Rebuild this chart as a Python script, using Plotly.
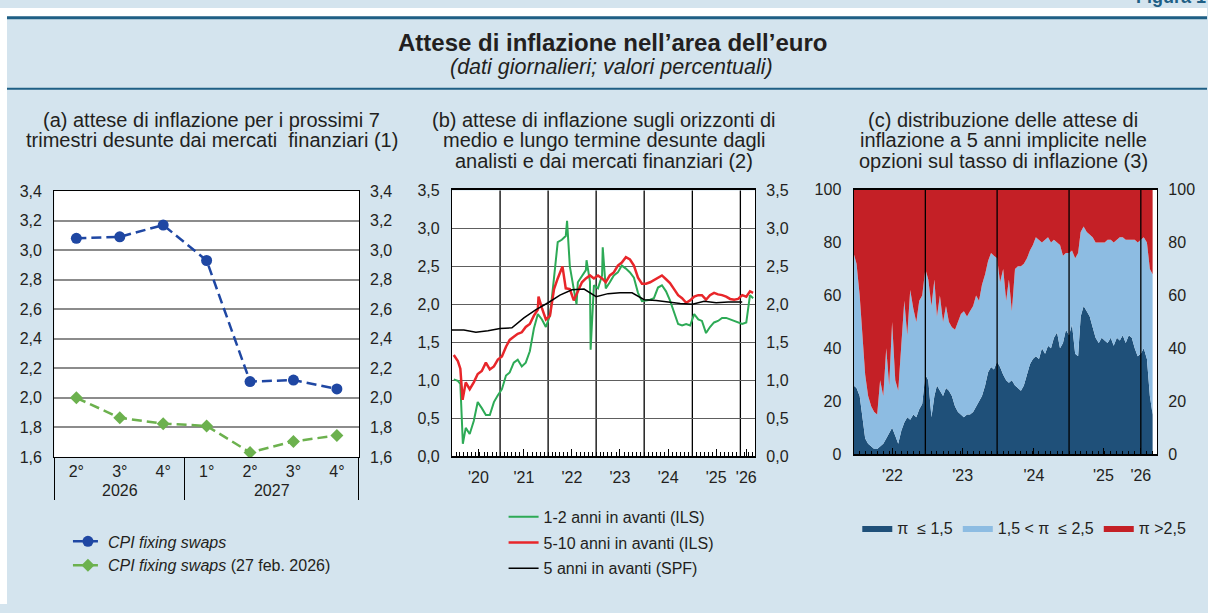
import pandas as pd
import plotly.graph_objects as go

# ---------------- data ----------------
# panel (a)
a_year = ["2026", "2026", "2026", "2027", "2027", "2027", "2027"]
a_quarter = ["2°", "3°", "4°", "1°", "2°", "3°", "4°"]
a_cpi_swaps = [3.08, 3.09, 3.17, 2.93, 2.11, 2.12, 2.06]
a_cpi_swaps_feb = [2.00, 1.865, 1.825, 1.81, 1.63, 1.705, 1.745]
a_yticks = [1.6, 1.8, 2.0, 2.2, 2.4, 2.6, 2.8, 3.0, 3.2, 3.4]

# panel (b): monthly (mid-month) readings Jan 2020 - Mar 2026
b_first_month = "2020-01-01"
b_green_m = [1.01, 0.99, 0.55, 0.37, 0.29, 0.46, 0.71, 0.63, 0.54, 0.54, 0.71, 0.80,
             0.88, 1.06, 1.10, 1.23, 1.27, 1.18, 1.23, 1.38, 1.68, 1.87, 1.80, 1.70,
             1.85, 2.35, 2.82, 2.85, 2.90, 2.50, 2.20, 2.29, 2.38, 2.45, 2.30, 2.25,
             2.21, 2.38, 2.21, 2.29, 2.38, 2.42, 2.51, 2.47, 2.42, 2.35, 2.15, 2.04,
             2.05, 2.06, 2.08, 2.22, 2.25, 2.17, 2.05, 1.90, 1.74, 1.72, 1.74, 1.72,
             1.87, 1.80, 1.78, 1.62, 1.70, 1.76, 1.78, 1.82, 1.82, 1.80, 1.78, 1.76,
             1.74, 1.76, 2.12]
b_green_extra_dates = ["2020-03-05", "2020-03-24", "2022-05-25", "2022-08-05",
                       "2022-10-20", "2022-11-20", "2023-02-20", "2026-04-08"]
b_green_extra = [0.95, 0.16, 3.10, 2.00, 2.58, 1.40, 2.75, 2.08]
b_red_m = [1.33, 1.25, 0.95, 0.97, 0.88, 0.97, 1.08, 1.12, 1.23, 1.14, 1.18, 1.27,
           1.31, 1.44, 1.53, 1.57, 1.61, 1.63, 1.70, 1.74, 1.85, 1.93, 1.95, 1.80,
           1.85, 2.20, 2.34, 2.47, 2.21, 2.20, 2.05, 2.17, 2.29, 2.34, 2.38, 2.34,
           2.38, 2.34, 2.29, 2.38, 2.42, 2.51, 2.55, 2.62, 2.59, 2.51, 2.35, 2.27,
           2.27, 2.29, 2.32, 2.36, 2.38, 2.33, 2.28, 2.20, 2.12, 2.08, 2.02, 2.05,
           2.10, 2.12, 2.12, 2.06, 2.12, 2.15, 2.13, 2.12, 2.10, 2.07, 2.06, 2.07,
           2.12, 2.10, 2.17]
b_red_extra_dates = ["2020-03-05", "2020-03-22", "2021-10-20", "2022-04-20", "2026-04-08"]
b_red_extra = [1.15, 0.74, 2.10, 2.50, 2.15]
b_spf_dates = ["2020-01-01", "2020-04-01", "2020-07-01", "2020-10-01",
               "2021-01-01", "2021-04-01", "2021-07-01", "2021-10-01",
               "2022-01-01", "2022-04-01", "2022-07-01", "2022-10-01",
               "2023-01-01", "2023-04-01", "2023-07-01", "2023-10-01",
               "2024-01-01", "2024-04-01", "2024-07-01", "2024-10-01",
               "2025-01-01", "2025-04-01", "2025-07-01", "2025-10-01", "2026-01-15"]
b_spf = [1.66, 1.66, 1.63, 1.65, 1.68, 1.69, 1.82, 1.93, 2.02, 2.12, 2.19, 2.20,
         2.10, 2.14, 2.15, 2.15, 2.06, 2.05, 2.03, 2.01, 2.00, 2.04, 2.02, 2.03, 2.03]
b_yticks = [0.0, 0.5, 1.0, 1.5, 2.0, 2.5, 3.0, 3.5]
b_tick_dates = ["2020-07-20", "2021-07-01", "2022-07-01", "2023-07-01",
                "2024-07-01", "2025-07-01", "2026-02-15"]
b_tick_text = ["'20", "'21", "'22", "'23", "'24", "'25", "'26"]
b_year_lines = ["2021-01-01", "2022-01-01", "2023-01-01", "2024-01-01",
                "2025-01-01", "2026-01-01"]

# panel (c): semi-monthly readings (1st and 16th) Jan 2022 - Mar 2026
c_first_month, c_last_month, c_last_date = "2022-01-01", "2026-02-01", "2026-03-02"
c_low = [26, 25, 22, 14, 6, 4, 3, 2, 2, 3, 4, 6, 8, 10, 7, 4, 9, 12, 14, 13, 15, 14, 17, 19,
         30, 28, 14, 22, 26, 24, 22, 25, 24, 22, 18, 16, 15, 14, 15, 15, 16, 18, 20, 22, 26, 31, 33, 32,
         35, 33, 30, 28, 27, 28, 26, 25, 24, 26, 30, 34, 36, 37, 36, 40, 38, 41, 40, 44, 46, 40, 42, 47,
         45, 49, 38, 37, 52, 56, 54, 52, 48, 44, 42, 44, 43, 42, 44, 41, 44, 43, 45, 42, 45, 44, 40, 37,
         38, 40, 36, 22, 15]
c_upto_25 = [76, 72, 60, 45, 30, 22, 18, 16, 15, 28, 22, 40, 26, 50, 28, 24, 40, 58, 45, 62, 55, 50, 58, 60,
             70, 66, 56, 66, 52, 60, 50, 56, 50, 48, 47, 50, 53, 54, 52, 54, 56, 60, 58, 64, 68, 73, 76, 75,
             74, 65, 70, 58, 66, 54, 70, 71, 71, 72, 74, 77, 79, 82, 81, 80, 81, 82, 80, 81, 80, 79, 75, 76,
             76, 77, 74, 76, 84, 86, 84, 83, 82, 80, 80, 80, 80, 81, 81, 80, 81, 82, 82, 81, 81, 81, 81, 80,
             81, 82, 80, 70, 68]
c_yticks = [0, 20, 40, 60, 80, 100]
c_tick_dates = ["2022-07-18", "2023-07-10", "2024-07-06", "2025-06-25", "2026-01-01"]
c_tick_text = ["'22", "'23", "'24", "'25", "'26"]
c_year_lines = ["2023-01-01", "2024-01-01", "2025-01-01", "2026-01-01"]

# ---------------- helpers ----------------
W, H = 1208, 613
def px(x):
    return x / W
def py(y):
    return 1 - y / H

FONT = "Liberation Sans, Arial, Helvetica, sans-serif"
TXT = "#231f20"
BG = "#d4e4ee"
BLUE_LINE = "#1f5f85"

# quarter keys: a zero-width space marks the second year so that the
# multicategory axis keeps the chronological order 1°..4° inside 2027
a_qkey = [q if y == a_year[0] else q + "\u200b" for q, y in zip(a_quarter, a_year)]
a_x = [a_year, a_qkey]

b_mid = pd.date_range(b_first_month, periods=len(b_green_m), freq="MS") + pd.Timedelta(days=14)
green = pd.concat([pd.Series(b_green_m, index=b_mid),
                   pd.Series(b_green_extra, index=pd.to_datetime(b_green_extra_dates))]).sort_index()
red = pd.concat([pd.Series(b_red_m, index=b_mid),
                 pd.Series(b_red_extra, index=pd.to_datetime(b_red_extra_dates))]).sort_index()

c_months = pd.date_range(c_first_month, c_last_month, freq="MS")
c_dates = [d + pd.Timedelta(days=o) for d in c_months for o in (0, 15)] + [pd.Timestamp(c_last_date)]
c_mid = [u - l for u, l in zip(c_upto_25, c_low)]
c_high = [100 - u for u in c_upto_25]

fig = go.Figure()

# ---- panel (a)
fig.add_trace(go.Scatter(
    x=a_x, y=a_cpi_swaps, name="<i>CPI fixing swaps</i>",
    mode="lines+markers", line=dict(color="#1f47a3", width=2.5, dash="10px,5px"),
    marker=dict(symbol="circle", size=11, color="#1f47a3"),
    xaxis="x", yaxis="y", legend="legend"))
fig.add_trace(go.Scatter(
    x=a_x, y=a_cpi_swaps_feb, name="<i>CPI fixing swaps</i> (27 feb. 2026)",
    mode="lines+markers", line=dict(color="#6cb14e", width=2.5, dash="10px,5px"),
    marker=dict(symbol="diamond", size=10, color="#6cb14e"),
    xaxis="x", yaxis="y", legend="legend"))
# invisible copy on the right-hand axis (so that its labels are drawn)
fig.add_trace(go.Scatter(x=a_x, y=a_cpi_swaps, mode="markers", marker=dict(opacity=0),
                         showlegend=False, hoverinfo="skip", xaxis="x", yaxis="y4"))

# ---- panel (b)
fig.add_trace(go.Scatter(x=green.index, y=green.values, name="1-2 anni in avanti (ILS)",
                         mode="lines", line=dict(color="#2daa56", width=2),
                         xaxis="x2", yaxis="y2", legend="legend2", legendgroup="g1"))
fig.add_trace(go.Scatter(x=red.index, y=red.values, name="5-10 anni in avanti (ILS)",
                         mode="lines", line=dict(color="#e8262a", width=2.5),
                         xaxis="x2", yaxis="y2", legend="legend2", legendgroup="g2"))
fig.add_trace(go.Scatter(x=pd.to_datetime(b_spf_dates), y=b_spf, name="5 anni in avanti (SPF)",
                         mode="lines", line=dict(color="#000000", width=1.5),
                         xaxis="x2", yaxis="y2", legend="legend2", legendgroup="g3"))
fig.add_trace(go.Scatter(x=green.index, y=green.values, mode="markers", marker=dict(opacity=0),
                         showlegend=False, hoverinfo="skip", xaxis="x2", yaxis="y5"))

# ---- panel (c)
for vals, nm, col in [(c_low, "π  ≤ 1,5", "#1f5079"),
                      (c_mid, "1,5 < π  ≤ 2,5", "#8dbce2"),
                      (c_high, "π >2,5", "#c42026")]:
    fig.add_trace(go.Scatter(x=c_dates, y=vals, name=nm, mode="lines", stackgroup="c",
                             line=dict(width=0, color=col), fillcolor=col,
                             xaxis="x3", yaxis="y3", legend="legend3"))
fig.add_trace(go.Scatter(x=c_dates, y=c_low, mode="markers", marker=dict(opacity=0),
                         showlegend=False, hoverinfo="skip", xaxis="x3", yaxis="y6"))

axis_font = dict(family=FONT, size=16, color=TXT)

common_y = dict(showline=True, linecolor="black", linewidth=1.2, mirror=True, ticks="",
                tickfont=axis_font, zeroline=False, ticklabelstandoff=8)
right_y = dict(side="right", showline=False, showgrid=False, ticks="", tickfont=axis_font,
               zeroline=False, ticklabelstandoff=10)

fig.update_layout(
    width=W, height=H, autosize=False,
    margin=dict(l=0, r=0, t=0, b=0),
    paper_bgcolor=BG, plot_bgcolor="white",
    separators=",.",
    font=dict(family=FONT, size=16, color=TXT),
    showlegend=True,
    xaxis=dict(domain=[px(54.3), px(359.3)], anchor="y", type="multicategory",
               showline=True, linecolor="black", linewidth=1.2, mirror=True,
               showdividers=True, dividercolor="black", dividerwidth=1.2,
               tickfont=axis_font, showgrid=False),
    yaxis=dict(domain=[py(461.7), py(188.3)], anchor="x", range=[1.6, 3.4],
               tickvals=a_yticks, tickformat=".1f", showgrid=True, gridcolor="#8c8c8c",
               gridwidth=1.5, **common_y),
    yaxis4=dict(overlaying="y", anchor="x", range=[1.6, 3.4], tickvals=a_yticks,
                tickformat=".1f", **right_y),
    xaxis2=dict(domain=[px(452.3), px(756)], anchor="y2", type="date",
                range=["2020-01-01", "2026-04-25"], tickvals=b_tick_dates, ticktext=b_tick_text,
                ticks="inside", ticklen=7, tickcolor="black", showgrid=False,
                showline=True, linecolor="black", linewidth=1.5, mirror=True,
                tickfont=axis_font, ticklabelstandoff=6,
                minor=dict(dtick="M1", tick0="2020-01-01", ticks="inside", ticklen=4,
                           tickcolor="black", showgrid=False)),
    yaxis2=dict(domain=[py(460.7), py(187.7)], anchor="x2", range=[0, 3.5],
                tickvals=b_yticks, tickformat=".1f", showgrid=True, gridcolor="#5e5e5e",
                gridwidth=1.3, **common_y),
    yaxis5=dict(overlaying="y2", anchor="x2", range=[0, 3.5], tickvals=b_yticks,
                tickformat=".1f", **right_y),
    xaxis3=dict(domain=[px(854.3), px(1158.3)], anchor="y3", type="date",
                range=["2022-01-01", "2026-03-26"], tickvals=c_tick_dates, ticktext=c_tick_text,
                ticks="inside", ticklen=7, tickcolor="black", showgrid=False,
                showline=True, linecolor="black", linewidth=1.5, mirror=True,
                tickfont=axis_font, ticklabelstandoff=6,
                minor=dict(dtick="M1", tick0="2022-01-01", ticks="inside", ticklen=4,
                           tickcolor="black", showgrid=False)),
    yaxis3=dict(domain=[py(459), py(186.7)], anchor="x3", range=[0, 100],
                tickvals=c_yticks, showgrid=False, **common_y),
    yaxis6=dict(overlaying="y3", anchor="x3", range=[0, 100], tickvals=c_yticks, **right_y),
    legend=dict(x=px(68), y=py(561), xanchor="left", yanchor="middle",
                bgcolor="rgba(0,0,0,0)", font=dict(family=FONT, size=16, color=TXT)),
    legend2=dict(x=px(504), y=py(550), xanchor="left", yanchor="middle",
                 bgcolor="rgba(0,0,0,0)", tracegroupgap=2,
                 font=dict(family=FONT, size=16, color=TXT)),
    legend3=dict(x=px(858), y=py(535), xanchor="left", yanchor="middle", orientation="h",
                 traceorder="normal",
                 bgcolor="rgba(0,0,0,0)", font=dict(family=FONT, size=16, color=TXT)),
)

shapes = [
    dict(type="rect", xref="paper", yref="paper", x0=0, x1=1, y0=py(9), y1=1,
         fillcolor="white", line=dict(width=0), layer="below"),
    dict(type="rect", xref="paper", yref="paper", x0=0, x1=px(7), y0=0, y1=1,
         fillcolor="white", line=dict(width=0), layer="below"),
    dict(type="line", xref="paper", yref="paper", x0=px(7), x1=1, y0=py(10), y1=py(10),
         line=dict(color=BLUE_LINE, width=3)),
    dict(type="line", xref="paper", yref="paper", x0=px(7), x1=1, y0=py(83), y1=py(83),
         line=dict(color=BLUE_LINE, width=2)),
]
for d in b_year_lines:
    shapes.append(dict(type="line", xref="x2", yref="y2 domain", x0=d, x1=d, y0=0, y1=1,
                       line=dict(color="black", width=1.3), layer="below"))
for d in c_year_lines:
    shapes.append(dict(type="line", xref="x3", yref="y3 domain", x0=d, x1=d, y0=0, y1=1,
                       line=dict(color="black", width=1.3), layer="above"))
fig.update_layout(shapes=shapes)

ann = [
    dict(text="<b>Figura 1</b>", x=px(1135), y=py(1), xanchor="left", yanchor="bottom",
         font=dict(size=18, color=BLUE_LINE)),
    dict(text="<b>Attese di inflazione nell’area dell’euro</b>", x=px(613), y=py(35),
         font=dict(size=24, color=TXT)),
    dict(text="<i>(dati giornalieri; valori percentuali)</i>", x=px(612), y=py(61),
         font=dict(size=21.5, color=TXT)),
]
panel_titles = [
    (212, ["(a) attese di inflazione per i prossimi 7",
           "trimestri desunte dai mercati  finanziari (1)"]),
    (604, ["(b) attese di inflazione sugli orizzonti di",
           "medio e lungo termine desunte dagli",
           "analisti e dai mercati finanziari (2)"]),
    (1004, ["(c) distribuzione delle attese di",
            "inflazione a 5 anni implicite nelle",
            "opzioni sul tasso di inflazione (3)"]),
]
for cx, lines in panel_titles:
    for i, t in enumerate(lines):
        ann.append(dict(text=t, x=px(cx), y=py(115 + 21 * i),
                        font=dict(size=20, color=TXT)))
for a in ann:
    a.update(xref="paper", yref="paper", showarrow=False)
    a.setdefault("xanchor", "center")
    a.setdefault("yanchor", "middle")
fig.update_layout(annotations=ann)

fig.write_html("out.html", config={"displayModeBar": False},
               post_script="document.body.style.margin='0';document.body.style.padding='0';")
